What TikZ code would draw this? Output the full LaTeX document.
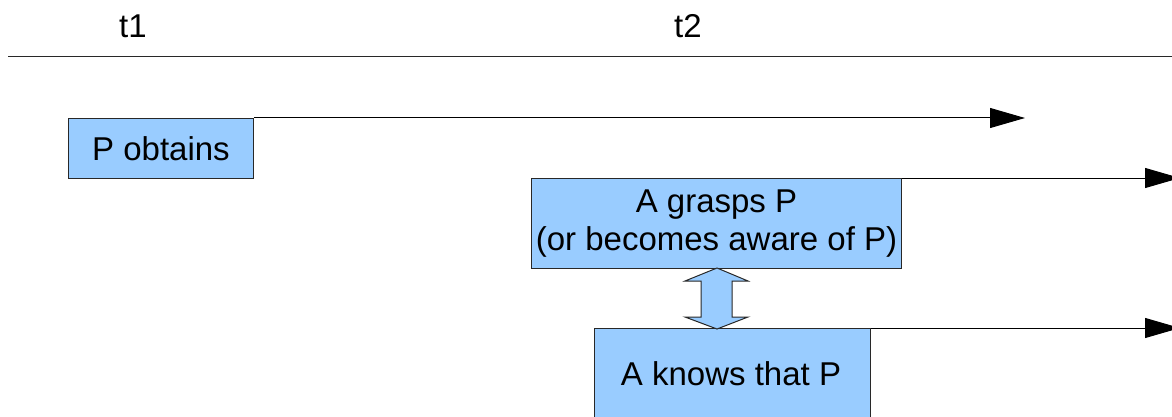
\documentclass[tikz,border=0pt]{standalone}
\usepackage{fontspec}
\setmainfont{Liberation Sans}
\usetikzlibrary{arrows.meta}
\definecolor{boxblue}{RGB}{153,204,255}
\definecolor{edge}{RGB}{40,40,40}
\begin{document}
\begin{tikzpicture}[x=1pt,y=-1pt,
  every node/.style={font=\fontsize{33}{38}\selectfont},
  statebox/.style={draw=edge,line width=1pt,fill=boxblue,inner sep=0pt,anchor=north west},
  timeline/.style={line width=1pt,-{Triangle[length=35pt,width=20pt]}}]
\useasboundingbox (0,0) rectangle (1172,417);
\draw[line width=1pt,color=edge] (8,57) -- (1172,57);
\node (t1) at (133,26) {t1};
\node (t2) at (688,26) {t2};
\node[statebox,minimum width=185pt,minimum height=60pt] (p) at (68,118) {P obtains};
\node[statebox,minimum width=370pt,minimum height=90pt,align=center] (g) at (531,178) {A grasps P\\(or becomes aware of P)};
\node[statebox,minimum width=276pt,minimum height=92pt] (k) at (594,328) {};
\node (kt) at (731,374) {A knows that P};
\coordinate (pe) at (1025,118);
\coordinate (ge) at (1180,178);
\coordinate (ke) at (1180,328);
\draw[timeline] (p.north east) -- (pe);
\draw[timeline] (g.north east) -- (ge);
\draw[timeline] (k.north east) -- (ke);
\draw[fill=boxblue,draw=edge,line width=1pt,line join=miter]
  (717,268) -- (748,281) -- (732,281) -- (732,317) -- (748,317) -- (717,329)
  -- (685,317) -- (701,317) -- (701,281) -- (685,281) -- cycle;
\end{tikzpicture}
\end{document}
